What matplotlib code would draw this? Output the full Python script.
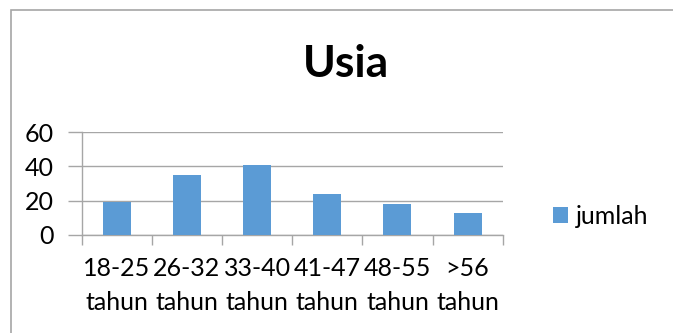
import matplotlib
matplotlib.use("Agg")
import matplotlib.pyplot as plt
from matplotlib.patches import Rectangle
import numpy as np

categories = ["18-25\ntahun", "26-32\ntahun", "33-40\ntahun", "41-47\ntahun", "48-55\ntahun", ">56\ntahun"]
jumlah = [19, 35, 41, 24, 18, 13]
yticks = [0, 20, 40, 60]

W, H = 673, 333
fig = plt.figure(figsize=(W / 100, H / 100), dpi=100)
plt.rcParams["font.family"] = ["Lato", "DejaVu Sans"]

grey = "#A6A6A6"
fs = 18
ax = fig.add_axes([81.7 / W, 1 - 235 / H, (502.7 - 81.7) / W, (235 - 132) / H])

x = np.arange(len(categories))
bars = ax.bar(x, jumlah, width=0.4, color="#5B9BD5", label="jumlah", zorder=3)

ax.set_xlim(-0.5, len(categories) - 0.5)
ax.set_ylim(0, 60)
ax.set_yticks(yticks)
ax.set_yticklabels([str(v) for v in yticks], fontsize=fs)
ax.yaxis.grid(True, color=grey, lw=1)
ax.tick_params(axis="y", length=10, color=grey, width=1, pad=10)

# category boundaries as tick marks, labels centred under bars
ax.set_xticks(np.arange(len(categories) + 1) - 0.5)
ax.set_xticklabels([])
ax.set_xticks(x, minor=True)
ax.set_xticklabels(categories, minor=True, fontsize=fs, linespacing=1.55)
ax.tick_params(axis="x", which="major", length=7, color=grey, width=1)
ax.tick_params(axis="x", which="minor", length=0, pad=16)

for s in ["top", "right"]:
    ax.spines[s].set_visible(False)
for s in ["left", "bottom"]:
    ax.spines[s].set_color(grey)
    ax.spines[s].set_linewidth(1)
ax.set_axisbelow(True)

fig.text(346 / W, 1 - 77 / H, "Usia", fontsize=32, fontweight="bold",
         ha="center", va="baseline")

fig.legend(handles=[bars], labels=["jumlah"], loc="center left",
           bbox_to_anchor=(553 / W, 1 - 216.5 / H), frameon=False,
           fontsize=fs, handlelength=0.6, handleheight=0.6, handletextpad=0.3,
           borderpad=0, borderaxespad=0)

fig.patches.append(Rectangle((10.5 / W, -0.1), 2, 1 - 9.5 / H + 0.1,
                             transform=fig.transFigure, fill=False,
                             edgecolor=grey, lw=1.2))

fig.savefig("out.png", dpi=100)
